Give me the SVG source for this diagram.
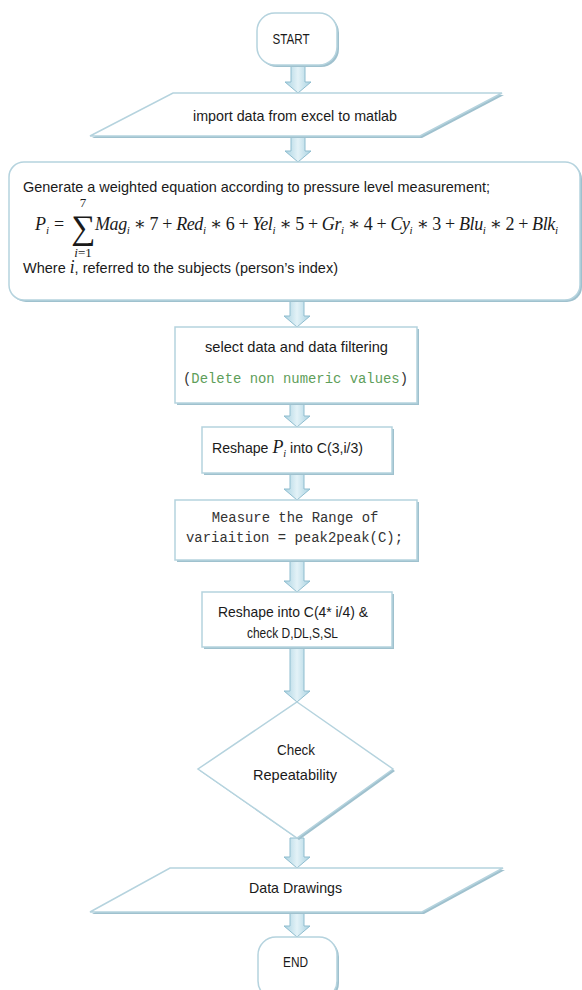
<svg xmlns="http://www.w3.org/2000/svg" width="582" height="990" viewBox="0 0 582 990">
<defs>
<linearGradient id="ag" x1="0" y1="0" x2="1" y2="0">
<stop offset="0" stop-color="#a9d2e1"/>
<stop offset="0.5" stop-color="#e3f2f7"/>
<stop offset="1" stop-color="#a9d2e1"/>
</linearGradient>
</defs>
<style>
.sh{fill:#9fc1ce;stroke:none}
.bx{fill:#ffffff;stroke:#b5d3de;stroke-width:1.5}
.ar{fill:url(#ag);stroke:#8fbdcf;stroke-width:1}
.t{font-family:"Liberation Sans",Arial,sans-serif;font-size:15px;fill:#1a1a1a}
.m{font-family:"Liberation Mono","Courier New",monospace;font-size:13.9px;fill:#333}
.g{fill:#5e9e5a}
.eq{font-family:"Liberation Serif","DejaVu Serif",serif;font-size:18px;fill:#1a1a1a}
.it{font-style:italic}
.sub{font-size:11px}
</style>
<rect width="582" height="990" fill="#ffffff"/>

<g id="connectors">
<path class="ar" d="M291,65 h14 v17 h6 l-13,11 l-13,-11 h6 z"/>
<path class="ar" d="M291,136 h14 v15 h6 l-13,11 l-13,-11 h6 z"/>
<path class="ar" d="M290,300 h14 v16 h6 l-13,11 l-13,-11 h6 z"/>
<path class="ar" d="M290,403 h14 v13 h6 l-13,11 l-13,-11 h6 z"/>
<path class="ar" d="M290,473 h14 v16 h6 l-13,11 l-13,-11 h6 z"/>
<path class="ar" d="M290,560 h14 v21 h6 l-13,11 l-13,-11 h6 z"/>
<path class="ar" d="M290,647 h14 v44 h6 l-13,11 l-13,-11 h6 z"/>
<path class="ar" d="M290,838 h14 v19 h6 l-13,11 l-13,-11 h6 z"/>
<path class="ar" d="M290,912 h14 v14 h6 l-13,11 l-13,-11 h6 z"/>
</g>

<g id="start">
<rect class="sh" x="259" y="15" width="80" height="52" rx="18"/>
<rect class="bx" x="257" y="13" width="80" height="52" rx="18"/>
<text class="t" x="291" y="44" text-anchor="middle" textLength="37" lengthAdjust="spacingAndGlyphs">START</text>
</g>

<g id="import">
<polygon class="sh" points="175,95 504,95 422,138 92,138"/>
<polygon class="bx" points="173,93 502,93 420,136 90,136"/>
<text class="t" x="193" y="121" textLength="204" lengthAdjust="spacingAndGlyphs">import data from excel to matlab</text>
</g>

<g id="equation">
<rect class="sh" x="11" y="164" width="571" height="138" rx="15"/>
<rect class="bx" x="9" y="162" width="571" height="138" rx="15"/>
<text class="t" x="23" y="192" textLength="467" lengthAdjust="spacingAndGlyphs">Generate a weighted equation according to pressure level measurement;</text>
<text class="eq" x="35" y="230"><tspan class="it">P</tspan><tspan class="it sub" dy="4">i</tspan><tspan dy="-4" x="54">=</tspan></text>
<text class="eq" x="83" y="239" style="font-size:34px" text-anchor="middle">∑</text>
<text class="eq" x="83" y="207" style="font-size:13px" text-anchor="middle">7</text>
<text class="eq" x="83" y="257" style="font-size:13px" text-anchor="middle"><tspan class="it">i</tspan>=1</text>
<text class="eq" x="95" y="230" textLength="463" lengthAdjust="spacing"><tspan class="it">Mag</tspan><tspan class="it sub" dy="4">i</tspan><tspan dy="-4"> ∗ 7 + </tspan><tspan class="it">Red</tspan><tspan class="it sub" dy="4">i</tspan><tspan dy="-4"> ∗ 6 + </tspan><tspan class="it">Yel</tspan><tspan class="it sub" dy="4">i</tspan><tspan dy="-4"> ∗ 5 + </tspan><tspan class="it">Gr</tspan><tspan class="it sub" dy="4">i</tspan><tspan dy="-4"> ∗ 4 +  </tspan><tspan class="it">Cy</tspan><tspan class="it sub" dy="4">i</tspan><tspan dy="-4"> ∗ 3 +  </tspan><tspan class="it">Blu</tspan><tspan class="it sub" dy="4">i</tspan><tspan dy="-4"> ∗ 2 +  </tspan><tspan class="it">Blk</tspan><tspan class="it sub" dy="4">i</tspan></text>
<text class="t" x="23" y="273" textLength="315" lengthAdjust="spacingAndGlyphs">Where <tspan class="it" style="font-family:'Liberation Serif',serif;font-size:18px">i</tspan>, referred to the subjects (person’s index)</text>
</g>

<g id="select">
<rect class="sh" x="177" y="329" width="242" height="76"/>
<rect class="bx" x="175" y="327" width="242" height="76"/>
<text class="t" x="205" y="352" textLength="183" lengthAdjust="spacingAndGlyphs">select data and data filtering</text>
<text class="m" x="183" y="383" textLength="225" lengthAdjust="spacingAndGlyphs">(<tspan class="g">Delete non numeric values</tspan>)</text>
</g>

<g id="reshape1">
<rect class="sh" x="204" y="429" width="190" height="46"/>
<rect class="bx" x="202" y="427" width="190" height="46"/>
<text class="t" x="212" y="453" textLength="151" lengthAdjust="spacingAndGlyphs">Reshape <tspan class="it" style="font-family:'Liberation Serif',serif;font-size:19px">P</tspan><tspan class="it" style="font-family:'Liberation Serif',serif;font-size:11px" dy="4">i</tspan><tspan dy="-4"> into C(3,i/3)</tspan></text>
</g>

<g id="measure">
<rect class="sh" x="177" y="502" width="242" height="60"/>
<rect class="bx" x="175" y="500" width="242" height="60"/>
<text class="m" x="295" y="522" text-anchor="middle">Measure the Range of</text>
<text class="m" x="186" y="542" textLength="217" lengthAdjust="spacingAndGlyphs">variaition = peak2peak(C);</text>
</g>

<g id="reshape2">
<rect class="sh" x="204" y="594" width="190" height="55"/>
<rect class="bx" x="202" y="592" width="190" height="55"/>
<text class="t" x="218" y="617" textLength="150" lengthAdjust="spacingAndGlyphs">Reshape into C(4* i/4) &amp;</text>
<text class="t" x="247" y="638" textLength="91" lengthAdjust="spacingAndGlyphs">check D,DL,S,SL</text>
</g>

<g id="decision">
<polygon class="sh" points="299,704 395,771 299,840 200,771"/>
<polygon class="bx" points="297,702 393,769 297,838 198,769"/>
<text class="t" x="277" y="755" textLength="38" lengthAdjust="spacingAndGlyphs">Check</text>
<text class="t" x="253" y="780" textLength="84" lengthAdjust="spacingAndGlyphs">Repeatability</text>
</g>

<g id="drawings">
<polygon class="sh" points="172,870 505,870 424,914 92,914"/>
<polygon class="bx" points="170,868 503,868 422,912 90,912"/>
<text class="t" x="249" y="893" textLength="93" lengthAdjust="spacingAndGlyphs">Data Drawings</text>
</g>

<g id="end">
<rect class="sh" x="260" y="939" width="79" height="62" rx="18"/>
<rect class="bx" x="258" y="937" width="79" height="62" rx="18"/>
<text class="t" x="283" y="967" textLength="25" lengthAdjust="spacingAndGlyphs">END</text>
</g>
</svg>
